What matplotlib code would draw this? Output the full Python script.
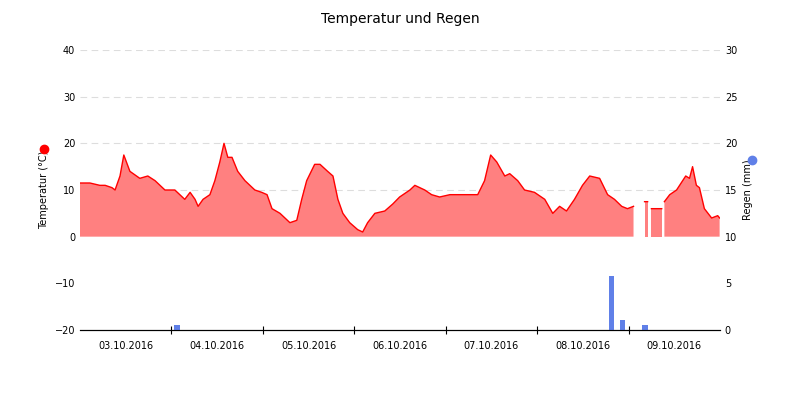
import numpy as np
import matplotlib.pyplot as plt
from matplotlib.lines import Line2D

nan = np.nan
hours = [0,2.6,5.2,6.6,8.4,9.2,10.5,11.5,13.1,15.7,17.8,19.7,22.3,24.9,26.2,27.5,28.9,30.2,31,32.3,34.1,35.4,36.7,37.8,38.8,39.9,41.4,43.3,45.9,47.7,49.1,50.4,52.5,55.1,56.9,58.2,59.5,61.6,63,65,66.4,67.7,69,70.8,72.9,74.2,75.5,77.4,80,82.1,83.9,86.6,87.9,90.5,92.3,94.4,97.1,99.7,102.3,104.4,106.2,107.8,109.4,111.5,112.8,114.9,116.7,119.3,122,124.1,125.9,127.7,129.8,131.9,133.8,136.4,138.5,140.3,142.2,143.7,145.3,145.8,148.2,149,149.5,150,152.7,153.1,153.4,154.8,156.6,159,160,160.8,161.8,162.6,163.9,165.8,167.4,167.9]
temps = [11.5,11.5,11,11,10.5,10,13,17.5,14,12.5,13,12,10,10,9,8,9.5,8,6.5,8,9,12,16,20,17,17,14,12,10,9.5,9,6,5,3,3.5,8,12,15.5,15.5,14,13,8,5,3,1.5,1,3,5,5.5,7,8.5,10,11,10,9,8.5,9,9,9,9,12,17.5,16,13,13.5,12,10,9.5,8,5,6.5,5.5,8,11,13,12.5,9,8,6.5,6,6.5,nan,7.5,7.5,nan,6,6,nan,7.5,9,10,13,12.5,15,11,10.5,6,4,4.5,4]
rain_hours = [25.4,139.5,142.4,148.4]
rain_mm = [0.5,5.8,1.1,0.5]
day_labels = ['03.10.2016','04.10.2016','05.10.2016','06.10.2016','07.10.2016','08.10.2016','09.10.2016']

fig = plt.figure(figsize=(8,4), dpi=100)
ax = fig.add_axes([0.1,0.175,0.8,0.7])
ax2 = ax.twinx()
h = np.array(hours); t = np.array(temps)
ax.fill_between(h, t, 0, color='#ff8080', lw=0)
ax.plot(h, t, color='red', lw=1)
ax2.bar(rain_hours, rain_mm, width=1.5, color='#6080e8')
ax.set_xlim(0,168); ax.set_ylim(-20,40); ax2.set_ylim(0,30)
ax.set_yticks(range(-20,41,10)); ax2.set_yticks(range(0,31,5))
for y in range(10,41,10):
    ax.axhline(y, color='#dddddd', ls=(0,(6,4)), lw=0.8, zorder=0)
ax.set_xticks(range(24,168,24)); ax.set_xticklabels([])
ax.set_xticks(np.arange(12,168,24), minor=True)
ax.set_xticklabels(day_labels, minor=True, fontsize=7)
ax.tick_params(axis='x', which='minor', length=0, pad=8)
ax.tick_params(axis='x', which='major', length=6, direction='inout')
for a in (ax, ax2):
    for s in ['top','left','right']:
        a.spines[s].set_visible(False)
    a.tick_params(axis='y', length=0, labelsize=7)
ax.set_ylabel('Temperatur (°C)', fontsize=7)
ax2.set_ylabel('Regen (mm)', fontsize=7)
fig.suptitle('Temperatur und Regen', fontsize=10, y=0.97)
fig.add_artist(Line2D([0.055],[0.627], marker='o', color='red', ms=6, transform=fig.transFigure))
fig.add_artist(Line2D([0.94],[0.6], marker='o', color='#6080e8', ms=6, transform=fig.transFigure))
fig.savefig('out.png')
